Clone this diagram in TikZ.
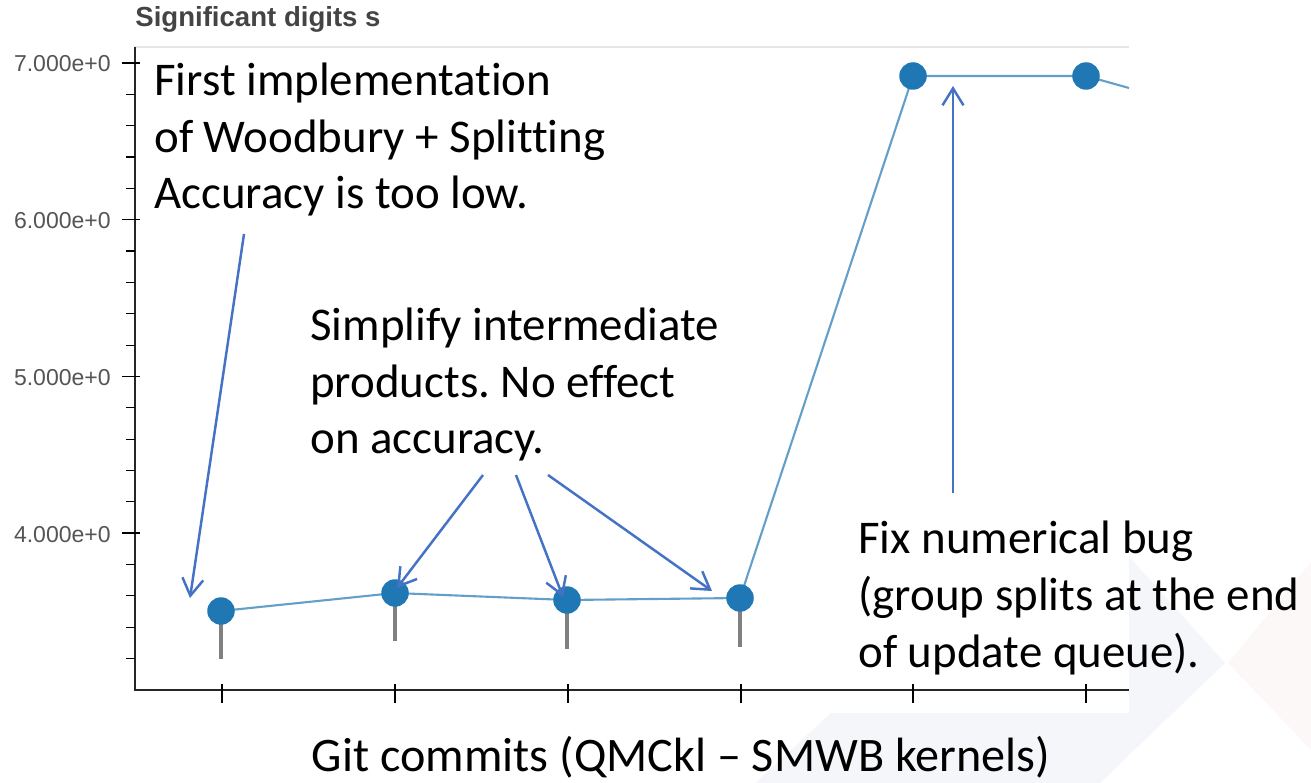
\documentclass[tikz,border=0pt]{standalone}
\usepackage{fontspec}
\setmainfont{Carlito}[Ligatures=NoCommon]
\newfontfamily\chartfont{Liberation Sans}[Ligatures=NoCommon]
\usetikzlibrary{arrows.meta}
\frenchspacing
\definecolor{ptblue}{HTML}{1F77B4}
\definecolor{noteblue}{HTML}{4472C4}
\definecolor{ticktext}{HTML}{555555}
\definecolor{titletext}{HTML}{444444}
\definecolor{wmgray}{HTML}{F5F6F9}
\definecolor{wmpink}{HTML}{FCF8F8}

\begin{document}
\begin{tikzpicture}[x=0.02cm,y=-0.02cm,
		note/.style={font=\fontsize{26.7}{32.3}\selectfont, align=left, anchor=base west, inner sep=0pt},
		ylabel/.style={font=\chartfont\fontsize{13.1}{15}\selectfont, text=ticktext, anchor=east, inner sep=0pt},
		commit/.style={circle, fill=ptblue, minimum size=0.55cm, inner sep=0pt},
		noteline/.style={noteblue, line width=1.4pt, -{Straight Barb[length=3.4mm,width=4.2mm]}},
		whisker/.style={black!50, line width=1.8pt},
		major/.style={black, line width=0.8pt},
		minor/.style={black, line width=0.6pt}]
		\useasboundingbox (0,0) rectangle (1311,783);
		% faint slide background
		\fill [wmgray] (693,450) -- (1033,450) -- (1225,663) -- (1100,783) -- (755,783) -- (885,663) -- cycle;
		\fill [wmpink] (1228,663) -- (1311,562) -- (1311,750) -- cycle;
		\fill [white] (0,0) rectangle (1129,713);
		% title and frame
		\node [font=\chartfont\bfseries\fontsize{15.7}{18}\selectfont, text=titletext, anchor=base west, inner sep=0pt] (title) at (135,27) {Significant digits s};
		\draw [black!10, line width=1pt] (135,47) -- (1129,47);
		\draw [black!85, line width=0.9pt] (135,47) -- (135,690) -- (1129,690);
		% y axis
		\draw [major] (122,63) -- (140,63);
		\draw [major] (122,219.7) -- (140,219.7);
		\draw [major] (122,376.4) -- (140,376.4);
		\draw [major] (122,533.1) -- (140,533.1);
		\node [ylabel] (y7) at (111,64) {7.000e+0};
		\node [ylabel] (y6) at (111,220.7) {6.000e+0};
		\node [ylabel] (y5) at (111,377.4) {5.000e+0};
		\node [ylabel] (y4) at (111,534.1) {4.000e+0};
		\draw [minor] (126,94.3) -- (135,94.3);
		\draw [minor] (126,125.7) -- (135,125.7);
		\draw [minor] (126,157.0) -- (135,157.0);
		\draw [minor] (126,188.4) -- (135,188.4);
		\draw [minor] (126,251.0) -- (135,251.0);
		\draw [minor] (126,282.4) -- (135,282.4);
		\draw [minor] (126,313.7) -- (135,313.7);
		\draw [minor] (126,345.1) -- (135,345.1);
		\draw [minor] (126,407.7) -- (135,407.7);
		\draw [minor] (126,439.1) -- (135,439.1);
		\draw [minor] (126,470.4) -- (135,470.4);
		\draw [minor] (126,501.8) -- (135,501.8);
		\draw [minor] (126,564.4) -- (135,564.4);
		\draw [minor] (126,595.8) -- (135,595.8);
		\draw [minor] (126,627.1) -- (135,627.1);
		\draw [minor] (126,658.5) -- (135,658.5);
		% x axis
		\draw [minor] (222,684) -- (222,703);
		\draw [minor] (395,684) -- (395,703);
		\draw [minor] (568,684) -- (568,703);
		\draw [minor] (741,684) -- (741,703);
		\draw [minor] (913,684) -- (913,703);
		\draw [minor] (1086,684) -- (1086,703);
		% commits
		\coordinate (p1) at (221,611);
		\coordinate (p2) at (395,593);
		\coordinate (p3) at (567,600);
		\coordinate (p4) at (740,598);
		\coordinate (p5) at (913,76);
		\coordinate (p6) at (1086,76);
		\coordinate (pout) at (1129,88);
		\coordinate (w1) at (221,659);
		\coordinate (w2) at (395,641);
		\coordinate (w3) at (567,649);
		\coordinate (w4) at (740,647);
		\draw [whisker] (p1) -- (w1);
		\draw [whisker] (p2) -- (w2);
		\draw [whisker] (p3) -- (w3);
		\draw [whisker] (p4) -- (w4);
		\draw [ptblue!70, line width=1.2pt] (p1) -- (p2) -- (p3) -- (p4) -- (p5) -- (p6) -- (pout);
		\node [commit] (c1) at (p1) {};
		\node [commit] (c2) at (p2) {};
		\node [commit] (c3) at (p3) {};
		\node [commit] (c4) at (p4) {};
		\node [commit] (c5) at (p5) {};
		\node [commit] (c6) at (p6) {};
		% notes (base = last line)
		\node [note] (woodbury) at (154,209) {First implementation\\of Woodbury + Splitting\\Accuracy is too low.};
		\node [note] (simplify) at (310,454) {Simplify intermediate\\products. No effect\\on accuracy.};
		\node [note] (bugfix) at (858,667) {Fix numerical bug\\(group splits at the end\\of update queue).};
		\node [font=\fontsize{27.4}{32}\selectfont, anchor=base, inner sep=0pt] (xlabel) at (681,771) {Git commits (QMCkl – SMWB kernels)};
		\coordinate (a1s) at (244,234);
		\coordinate (a1e) at (190,598);
		\coordinate (a2s) at (483,475);
		\coordinate (a2e) at (397,588);
		\coordinate (a3s) at (516,475);
		\coordinate (a3e) at (563,597);
		\coordinate (a4s) at (548,475);
		\coordinate (a4e) at (712,591);
		\coordinate (a5s) at (953,493);
		\coordinate (a5e) at (953,86);
		\draw [noteline] (a1s) -- (a1e);
		\draw [noteline] (a2s) -- (a2e);
		\draw [noteline] (a3s) -- (a3e);
		\draw [noteline] (a4s) -- (a4e);
		\draw [noteline] (a5s) -- (a5e);
\end{tikzpicture}
\end{document}
